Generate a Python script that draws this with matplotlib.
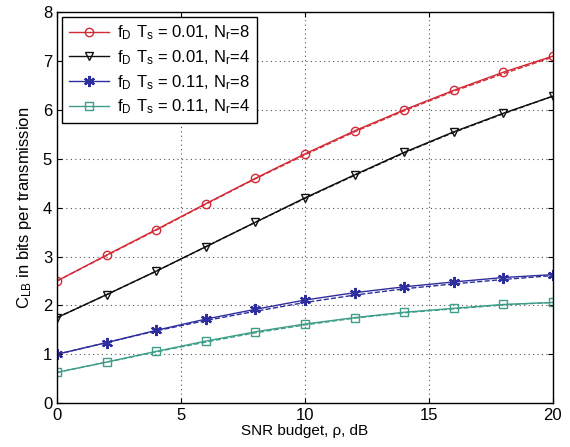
import matplotlib
matplotlib.use("Agg")
import matplotlib.pyplot as plt

snr = [0, 2, 4, 6, 8, 10, 12, 14, 16, 18, 20]
red = [2.50, 3.03, 3.55, 4.08, 4.60, 5.10, 5.57, 6.00, 6.40, 6.77, 7.10]
red_d = [2.50, 3.02, 3.54, 4.07, 4.59, 5.08, 5.55, 5.98, 6.38, 6.74, 7.08]
black = [1.75, 2.22, 2.70, 3.20, 3.70, 4.20, 4.67, 5.13, 5.55, 5.93, 6.28]
black_d = [1.75, 2.22, 2.70, 3.20, 3.70, 4.19, 4.66, 5.12, 5.54, 5.92, 6.28]
blue = [1.00, 1.24, 1.49, 1.72, 1.92, 2.11, 2.26, 2.38, 2.48, 2.57, 2.63]
blue_d = [1.00, 1.24, 1.48, 1.69, 1.88, 2.06, 2.21, 2.34, 2.44, 2.53, 2.61]
teal = [0.63, 0.84, 1.06, 1.27, 1.46, 1.62, 1.75, 1.86, 1.94, 2.02, 2.06]
teal_d = [0.63, 0.84, 1.05, 1.25, 1.44, 1.60, 1.74, 1.85, 1.93, 2.01, 2.06]
labels = [r"$\mathregular{f_D\ T_s}$ = 0.01, $\mathregular{N_r}$=8",
          r"$\mathregular{f_D\ T_s}$ = 0.01, $\mathregular{N_r}$=4",
          r"$\mathregular{f_D\ T_s}$ = 0.11, $\mathregular{N_r}$=8",
          r"$\mathregular{f_D\ T_s}$ = 0.11, $\mathregular{N_r}$=4"]

plt.rcParams['font.family'] = ['Liberation Sans', 'DejaVu Sans']
plt.rcParams['mathtext.fontset'] = 'custom'
plt.rcParams['mathtext.rm'] = 'Liberation Sans'

fig = plt.figure(figsize=(5.7, 4.47), dpi=100)
ax = fig.add_axes([0.1, 0.098, 0.87, 0.875])

cols = ['#d42a35', '#111111', '#2e2e9e', '#3f9e8a']
mk = ['o', 'v', (6, 2, 0), 's']
solid = [red, black, blue, teal]
dashed = [red_d, black_d, blue_d, teal_d]
for s, d, c, m, l in zip(solid, dashed, cols, mk, labels):
    ax.plot(snr, d, '--', color=c, lw=1.0)
    ax.plot(snr, s, '-', color=c, lw=1.0, marker=m, markersize=6 if m != (6, 2, 0) else 8,
            markerfacecolor='none', markeredgewidth=1.0 if m != (6, 2, 0) else 1.6, label=l)

ax.set_xlim(0, 20)
ax.set_ylim(0, 8)
ax.set_xticks([0, 5, 10, 15, 20])
ax.set_yticks(range(0, 9))
ax.grid(True, linestyle=(0, (1, 3)), color='#555555', lw=0.8)
ax.tick_params(direction='in', labelsize=12, top=True, right=True)
ax.set_xlabel("SNR budget, ρ, dB", fontsize=11, labelpad=1)
ax.set_ylabel(r"$\mathregular{C_{LB}}$ in bits per transmission", fontsize=12, labelpad=6)
leg = ax.legend(loc='upper left', fontsize=12, fancybox=False, framealpha=1,
                edgecolor='black', borderaxespad=0.3, handlelength=2.4, labelspacing=0.35,
                handletextpad=0.5)
leg.get_frame().set_linewidth(1.0)
for sp in ax.spines.values():
    sp.set_linewidth(1.0)
fig.savefig("out.png", dpi=100)
